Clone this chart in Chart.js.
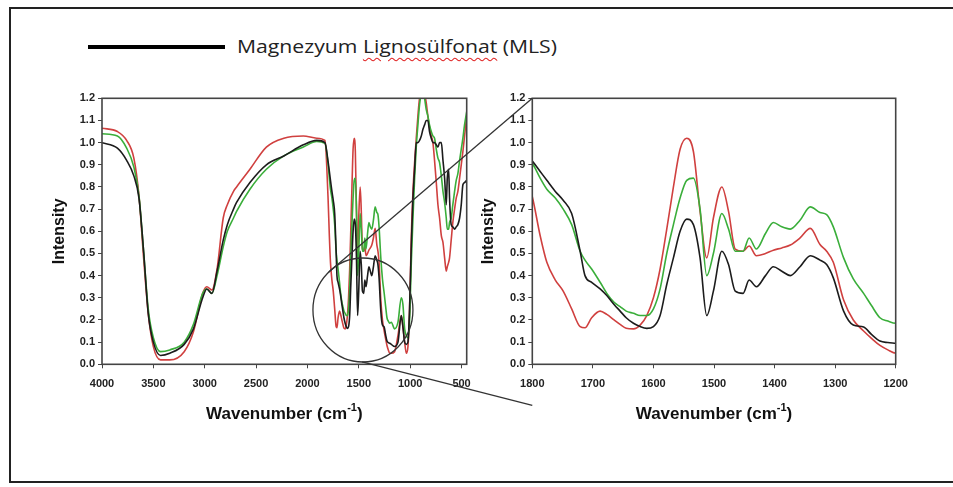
<!DOCTYPE html>
<html>
<head>
<meta charset="utf-8">
<script src="https://cdn.jsdelivr.net/npm/chart.js@4"></script>
<style>
html,body{margin:0;padding:0;background:#fff;width:953px;height:487px;overflow:hidden;}
#frame{position:absolute;left:9px;top:7px;width:990px;height:476px;border:2px solid #222;box-sizing:border-box;}
#legend{position:absolute;left:88px;top:32px;height:30px;}
#legend .swatch{position:absolute;left:0;top:13px;width:137px;height:4px;background:#000;}
#legend .label{position:absolute;left:149px;top:1px;white-space:nowrap;font-family:"Open Sans",sans-serif;font-size:19px;color:#222;transform-origin:0 50%;}
.wavy{text-decoration:underline wavy #e02424;text-decoration-thickness:1px;text-underline-offset:4px;}
canvas{position:absolute;}
#c1{left:40px;top:85px;}
#c2{left:470px;top:85px;}
#ov{position:absolute;left:0;top:0;pointer-events:none;}
</style>
</head>
<body>
<div id="frame"></div>
<div id="legend"><div class="swatch"></div><span class="label" id="lbl">Magnezyum <span class="wavy">Lignosülfonat</span> (MLS)</span></div>
<canvas id="c1" width="440" height="345"></canvas>
<canvas id="c2" width="450" height="345"></canvas>
<svg id="ov" width="953" height="487"></svg>
<script>
// ---- data ----
const wavenumbers = [
  4000,3850,3760,3690,3640,3595,3550,3500,3430,3340,3200,3110,3020,2980,2930,2880,2820,2780,2720,2690,2560,2400,2230,2040,1910,1830,
  1800,1787,1776,1762,1749,1735,1721,1713,1702,1688,1677,1665,1655,1645,1633,1622,1611,1600,1589,1578,1567,1556,1545,1534,1523,1512,1501,1487,1476,1465,1452,1442,1430,1415,1402,1388,1374,1358,1341,1325,1314,1303,1286,1270,1253,1240,1226,1213,1200,
  1184,1152,1119,1087,1071,1054,1038,1022,1006,989,973,957,941,925,909,892,876,860,844,828,812,795,779,763,746,730,714,697,681,665,649,639,626,617,601,585,568,552,536,519,503,487,471,450
];
const mlsBlack = [
  1.00,0.975,0.92,0.85,0.75,0.51,0.23,0.10,0.04,0.05,0.09,0.16,0.30,0.34,0.32,0.42,0.56,0.63,0.70,0.73,0.82,0.90,0.94,0.99,1.01,1.00,
  0.917,0.87,0.83,0.78,0.74,0.68,0.51,0.40,0.37,0.34,0.31,0.27,0.24,0.21,0.185,0.17,0.162,0.17,0.22,0.36,0.48,0.60,0.655,0.63,0.48,0.22,0.33,0.51,0.45,0.33,0.32,0.38,0.35,0.40,0.44,0.42,0.40,0.44,0.49,0.47,0.45,0.39,0.24,0.177,0.168,0.135,0.105,0.098,0.095,
  0.09,0.08,0.10,0.22,0.17,0.10,0.09,0.10,0.25,0.54,0.75,0.88,1.00,1.00,1.01,1.03,1.06,1.08,1.10,1.10,1.05,1.02,1.00,1.00,0.99,0.98,1.00,1.00,0.92,0.84,0.72,0.84,0.88,0.75,0.63,0.62,0.61,0.62,0.63,0.66,0.72,0.81,0.82,0.83
];
const seriesRed = [
  1.065,1.05,1.01,0.93,0.76,0.48,0.23,0.08,0.02,0.02,0.057,0.147,0.32,0.35,0.335,0.43,0.66,0.72,0.78,0.80,0.88,0.98,1.02,1.03,1.02,1.01,
  0.756,0.58,0.46,0.38,0.33,0.25,0.17,0.165,0.21,0.24,0.225,0.20,0.18,0.163,0.16,0.177,0.22,0.30,0.43,0.61,0.80,0.97,1.02,0.96,0.69,0.48,0.66,0.80,0.69,0.52,0.51,0.534,0.49,0.50,0.515,0.525,0.538,0.57,0.613,0.54,0.51,0.46,0.29,0.20,0.15,0.117,0.085,0.065,0.05,
  0.05,0.057,0.13,0.22,0.17,0.10,0.05,0.08,0.25,0.58,0.78,0.91,1.02,1.12,1.20,1.22,1.23,1.22,1.18,1.12,1.07,1.03,1.00,0.92,0.82,0.72,0.66,0.58,0.55,0.48,0.42,0.44,0.46,0.48,0.56,0.64,0.70,0.75,0.78,0.84,0.90,0.96,1.03,1.12
];
const seriesGreen = [
  1.04,1.03,0.975,0.89,0.76,0.51,0.25,0.12,0.057,0.065,0.10,0.18,0.32,0.34,0.32,0.40,0.53,0.60,0.66,0.69,0.79,0.88,0.94,0.98,1.005,0.997,
  0.907,0.84,0.79,0.75,0.70,0.63,0.51,0.47,0.43,0.37,0.32,0.28,0.26,0.24,0.23,0.22,0.22,0.25,0.34,0.50,0.63,0.75,0.83,0.84,0.70,0.40,0.50,0.68,0.61,0.51,0.51,0.57,0.52,0.59,0.64,0.62,0.61,0.65,0.71,0.685,0.675,0.62,0.48,0.385,0.32,0.265,0.21,0.195,0.185,
  0.19,0.16,0.19,0.30,0.27,0.16,0.13,0.12,0.20,0.46,0.66,0.84,0.98,1.08,1.17,1.22,1.23,1.20,1.15,1.12,1.08,1.05,1.03,1.02,0.97,0.93,0.91,0.85,0.78,0.73,0.66,0.61,0.61,0.64,0.66,0.72,0.78,0.83,0.86,0.92,0.97,1.02,1.08,1.14
];
const xTicksFull = [4000,3500,3000,2500,2000,1500,1000,500];
const xTicksZoom = [1800,1700,1600,1500,1400,1300,1200];
const yTicks = [0,0.1,0.2,0.3,0.4,0.5,0.6,0.7,0.8,0.9,1.0,1.1,1.2];
const legendLabel = 'Magnezyum Lignosülfonat (MLS)';

// ---- chart building ----
const FONT = 'Arial, "Liberation Sans", sans-serif';
const pts = arr => wavenumbers.map((w,i)=>({x:w,y:arr[i]}));
function datasets(){
  const base = {pointRadius:0, borderWidth:1.6, cubicInterpolationMode:'monotone', fill:false};
  return [
    Object.assign({label:legendLabel, data:pts(mlsBlack), borderColor:'#1c1c1c'}, base),
    Object.assign({label:'Seri 2', data:pts(seriesGreen), borderColor:'#3aae3a'}, base),
    Object.assign({label:'Seri 3', data:pts(seriesRed), borderColor:'#d0403f'}, base)
  ];
}
const framePlugin = {id:'frameBox', afterDatasetsDraw(chart){
  const {ctx, chartArea:a} = chart;
  ctx.save(); ctx.strokeStyle='#444'; ctx.lineWidth=1.6;
  ctx.strokeRect(a.left, a.top, a.right-a.left, a.bottom-a.top); ctx.restore();
}};
const xTitlePlugin = {id:'xTitle', afterDraw(chart){
  const {ctx, chartArea:a} = chart;
  const cx = (a.left+a.right)/2, base = a.bottom+55;
  ctx.save(); ctx.fillStyle='#111'; ctx.textBaseline='alphabetic'; ctx.textAlign='left';
  const f1 = 'bold 17px '+FONT, f2 = 'bold 11px '+FONT;
  const t1='Wavenumber (cm', t2='-1', t3=')';
  ctx.font=f1; const w1=ctx.measureText(t1).width, w3=ctx.measureText(t3).width;
  ctx.font=f2; const w2=ctx.measureText(t2).width;
  let x = cx-(w1+w2+w3)/2;
  ctx.font=f1; ctx.fillText(t1,x,base);
  ctx.font=f2; ctx.fillText(t2,x+w1,base-8);
  ctx.font=f1; ctx.fillText(t3,x+w1+w2,base);
  ctx.restore();
}};
function options(xmin,xmax,xTicks,yWidth,yTitlePad,padRight){
  const tickFont = {family:FONT, size:11, weight:'bold'};
  const grid = {drawOnChartArea:false, drawTicks:true, tickLength:4, color:'#444', lineWidth:1};
  return {
    responsive:false, animation:false, devicePixelRatio:1,
    layout:{padding:{top:13.3, right:padRight, bottom:0, left:0}},
    plugins:{legend:{display:false}, tooltip:{enabled:false}},
    scales:{
      x:{type:'linear', reverse:true, min:xmin, max:xmax,
         afterBuildTicks:s=>{s.ticks = xTicks.map(v=>({value:v}));},
         afterFit:s=>{s.height = 65.7;},
         ticks:{font:tickFont, color:'#222', padding:9, maxRotation:0, autoSkip:false, callback:v=>String(v)},
         grid:grid, border:{display:false}},
      y:{type:'linear', min:0, max:1.2,
         afterBuildTicks:s=>{s.ticks = yTicks.map(v=>({value:v}));},
         afterFit:s=>{s.width = yWidth;},
         ticks:{font:tickFont, color:'#222', padding:3, callback:v=>Number(v).toFixed(1)},
         grid:grid, border:{display:false},
         title:{display:true, text:'Intensity', color:'#111', font:{family:FONT, size:16, weight:'bold'}, padding:{top:yTitlePad, bottom:0}}}
    }
  };
}
const c1 = new Chart(document.getElementById('c1'), {type:'line', data:{datasets:datasets()},
  options:options(450,4000,xTicksFull,62,10.4,13.3), plugins:[framePlugin,xTitlePlugin]});
const c2 = new Chart(document.getElementById('c2'), {type:'line', data:{datasets:datasets()},
  options:options(1200,1800,xTicksZoom,62.3,9.4,24.3), plugins:[framePlugin,xTitlePlugin]});

// ---- legend label width fit ----
const lbl = document.getElementById('lbl');
const lw = lbl.getBoundingClientRect().width;
lbl.style.transform = 'scaleX('+(320/lw)+')';

// ---- zoom ellipse and connector lines ----
const NS='http://www.w3.org/2000/svg', ov=document.getElementById('ov');
const o1 = {x:40,y:85}, o2 = {x:470,y:85};
const ecx = o1.x + c1.scales.x.getPixelForValue(1460), ecy = o1.y + c1.scales.y.getPixelForValue(0.245);
const rx = 50, ry = 52;
function el(tag, attrs){const e=document.createElementNS(NS,tag); for(const k in attrs) e.setAttribute(k,attrs[k]); e.setAttribute('stroke','#333'); e.setAttribute('stroke-width','1.3'); e.setAttribute('fill','none'); ov.appendChild(e);}
el('ellipse',{cx:ecx,cy:ecy,rx:rx,ry:ry});
const a2 = c2.chartArea;
const t1 = 227*Math.PI/180, t2 = 91*Math.PI/180;
el('line',{x1:ecx+rx*Math.cos(t1), y1:ecy+ry*Math.sin(t1), x2:o2.x+a2.left, y2:o2.y+a2.top});
el('line',{x1:ecx+rx*Math.cos(t2), y1:ecy+ry*Math.sin(t2), x2:o2.x+a2.left, y2:o2.y+a2.bottom+41});
</script>
</body>
</html>
